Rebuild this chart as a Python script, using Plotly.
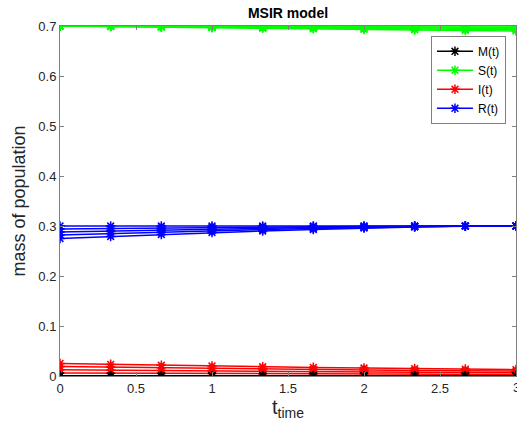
import plotly.graph_objects as go

t = [0, 1/3, 2/3, 1, 4/3, 5/3, 2, 7/3, 8/3, 3]

M_curves = [
    [0, 0, 0, 0, 0, 0, 0, 0, 0, 0],
    [0, 0, 0, 0, 0, 0, 0, 0, 0, 0],
    [0, 0, 0, 0, 0, 0, 0, 0, 0, 0],
    [0, 0, 0, 0, 0, 0, 0, 0, 0, 0],
    [0, 0, 0, 0, 0, 0, 0, 0, 0, 0],
]
S_curves = [
    [0.700, 0.700, 0.700, 0.700, 0.700, 0.700, 0.700, 0.700, 0.700, 0.700],
    [0.700, 0.6997, 0.6994, 0.6992, 0.6989, 0.6986, 0.6983, 0.6980, 0.6978, 0.6975],
    [0.700, 0.6994, 0.6989, 0.6983, 0.6978, 0.6972, 0.6967, 0.6961, 0.6956, 0.6950],
    [0.700, 0.6992, 0.6983, 0.6975, 0.6967, 0.6958, 0.6950, 0.6942, 0.6933, 0.6925],
    [0.700, 0.6989, 0.6978, 0.6967, 0.6956, 0.6944, 0.6933, 0.6922, 0.6911, 0.6900],
]
I_curves = [
    [0.0250, 0.0232, 0.0215, 0.0200, 0.0185, 0.0172, 0.0160, 0.0148, 0.0137, 0.0127],
    [0.0190, 0.0177, 0.0163, 0.0152, 0.0141, 0.0131, 0.0122, 0.0112, 0.0105, 0.0097],
    [0.0125, 0.0116, 0.0108, 0.0100, 0.0093, 0.0086, 0.0080, 0.0074, 0.0069, 0.0064],
    [0.0060, 0.0056, 0.0052, 0.0048, 0.0044, 0.0041, 0.0038, 0.0035, 0.0033, 0.0031],
    [0, 0, 0, 0, 0, 0, 0, 0, 0, 0],
]
R_curves = [
    [0.300, 0.300, 0.300, 0.300, 0.300, 0.300, 0.300, 0.300, 0.300, 0.300],
    [0.294, 0.295, 0.296, 0.297, 0.298, 0.299, 0.2995, 0.300, 0.300, 0.300],
    [0.288, 0.290, 0.292, 0.294, 0.296, 0.297, 0.298, 0.299, 0.300, 0.300],
    [0.282, 0.285, 0.288, 0.291, 0.293, 0.295, 0.297, 0.299, 0.300, 0.300],
    [0.275, 0.279, 0.283, 0.287, 0.290, 0.293, 0.296, 0.298, 0.300, 0.300],
]

x_ticks = [0, 0.5, 1, 1.5, 2, 2.5, 3]
x_tick_labels = ["0", "0.5", "1", "1.5", "2", "2.5", "3"]
y_ticks = [0, 0.1, 0.2, 0.3, 0.4, 0.5, 0.6, 0.7]
y_tick_labels = ["0", "0.1", "0.2", "0.3", "0.4", "0.5", "0.6", "0.7"]

series = [
    ("S(t)", S_curves, "#00ff00", 2),
    ("R(t)", R_curves, "#0000ff", 4),
    ("I(t)", I_curves, "#ff0000", 3),
    ("M(t)", M_curves, "#000000", 1),
]

FONT = "Liberation Sans, Arial"

fig = go.Figure()
for name, curves, color, rank in series:
    for i, c in enumerate(curves):
        fig.add_trace(go.Scatter(
            x=t, y=c, mode="lines+markers", name=name,
            legendgroup=name, showlegend=(i == 0), legendrank=rank,
            line=dict(color=color, width=1.5),
            marker=dict(symbol="asterisk", size=8,
                        line=dict(color=color, width=1.5), color=color),
        ))

axis_common = dict(
    showline=True, linecolor="#808080", linewidth=1, mirror="ticks",
    ticks="inside", ticklen=4, tickcolor="#808080",
    showgrid=False, zeroline=False,
    tickfont=dict(family=FONT, size=13, color="#262626"),
)

fig.update_layout(
    width=517, height=432,
    margin=dict(l=60, r=1, t=26, b=56),
    paper_bgcolor="white", plot_bgcolor="white",
    title=dict(text="<b>MSIR model</b>", x=0.5, xanchor="center", xref="paper",
               y=1 - 13 / 432, yanchor="middle",
               font=dict(family=FONT, size=14, color="black")),
    font=dict(family=FONT, color="#262626"),
    showlegend=True,
    legend=dict(
        x=0.978, y=0.972, xanchor="right", yanchor="top",
        bgcolor="white", bordercolor="#808080", borderwidth=1,
        font=dict(family=FONT, size=12, color="black"),
        itemwidth=36, tracegroupgap=0,
    ),
)
# x = 3 tick label, which sits on the right border of the page
fig.add_annotation(
    x=x_ticks[-1], y=0, xref="x", yref="paper", text=x_tick_labels[-1],
    showarrow=False, yanchor="top", xanchor="center", yshift=-2,
    font=dict(family=FONT, size=13, color="#262626"),
)
fig.update_xaxes(
    range=[0, 3], tickvals=x_ticks[:-1], ticktext=x_tick_labels[:-1],
    title=dict(text="t<sub>time</sub>", standoff=0,
               font=dict(family=FONT, size=20, color="#262626")),
    **axis_common,
)
fig.update_yaxes(
    range=[0, 0.7], tickvals=y_ticks, ticktext=y_tick_labels,
    title=dict(text="mass of population", standoff=8,
               font=dict(family=FONT, size=18, color="#262626")),
    **axis_common,
)

fig.write_html("out.html")
